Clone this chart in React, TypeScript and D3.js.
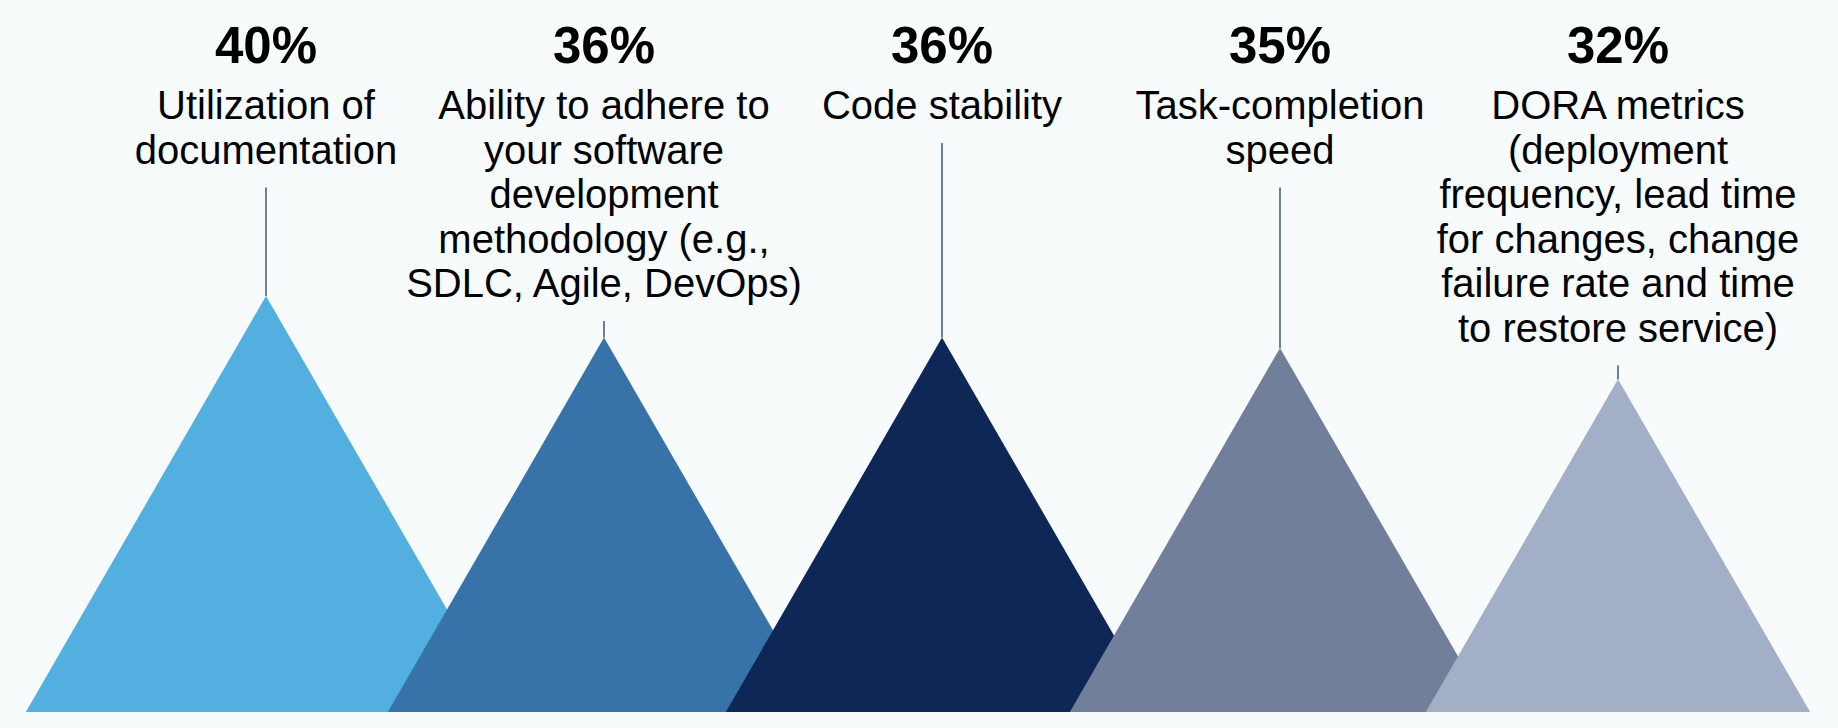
import React, { useEffect } from "react";
import * as d3 from "d3";

// ---- Data ----
const categories: string[] = [
  "Utilization of documentation",
  "Ability to adhere to your software development methodology",
  "Code stability",
  "Task-completion speed",
  "DORA metrics",
];
const values: number[] = [40, 36, 36, 35, 32];
const labelLines: string[][] = [
  ["Utilization of", "documentation"],
  ["Ability to adhere to", "your software", "development", "methodology (e.g.,", "SDLC, Agile, DevOps)"],
  ["Code stability"],
  ["Task-completion", "speed"],
  ["DORA metrics", "(deployment", "frequency, lead time", "for changes, change", "failure rate and time", "to restore service)"],
];
const colors: string[] = ["#52AFE0", "#3772A8", "#0E2756", "#727F9B", "#A2AFC6"];

const W = 1838;
const H = 728;

export default function App() {
  useEffect(() => {
    document.body.style.margin = "0";
  }, []);

  const baseY = 712;
  const x = d3.scalePoint<string>().domain(categories).range([266, 1618]).padding(0);
  const y = d3.scaleLinear().domain([0, 40]).range([baseY, baseY - 416]);

  const pctBaseline = 63;
  const firstLine = 119;
  const lineH = 44.5;

  const tri = (cx: number, v: number) => {
    const top = y(v);
    const h = baseY - top;
    const hw = h / Math.sqrt(3);
    const path = d3.path();
    path.moveTo(cx - hw, baseY);
    path.lineTo(cx, top);
    path.lineTo(cx + hw, baseY);
    path.closePath();
    return path.toString();
  };

  return (
    <svg width={W} height={H} style={{ display: "block" }} xmlns="http://www.w3.org/2000/svg">
      <rect x={0} y={0} width={W} height={H} fill="#F7FBFC" />
      {categories.map((c, i) => {
        const cx = x(c) as number;
        const lines = labelLines[i];
        const lastBase = firstLine + (lines.length - 1) * lineH;
        return (
          <g key={c}>
            <line
              x1={cx}
              x2={cx}
              y1={lastBase + 24}
              y2={y(values[i])}
              stroke="#4A5F85"
              strokeWidth={1.6}
            />
            <text
              x={cx}
              y={pctBaseline}
              textAnchor="middle"
              fontFamily="'Liberation Sans', Arial, sans-serif"
              fontWeight={700}
              fontSize={51}
              fill="#000"
            >
              {`${values[i]}%`}
            </text>
            <text
              x={cx}
              textAnchor="middle"
              fontFamily="'Liberation Sans', Arial, sans-serif"
              fontSize={40}
              fill="#000"
            >
              {lines.map((l, j) => (
                <tspan key={j} x={cx} y={firstLine + j * lineH}>
                  {l}
                </tspan>
              ))}
            </text>
          </g>
        );
      })}
      {categories.map((c, i) => (
        <path key={"t" + c} d={tri(x(c) as number, values[i])} fill={colors[i]} />
      ))}
    </svg>
  );
}
